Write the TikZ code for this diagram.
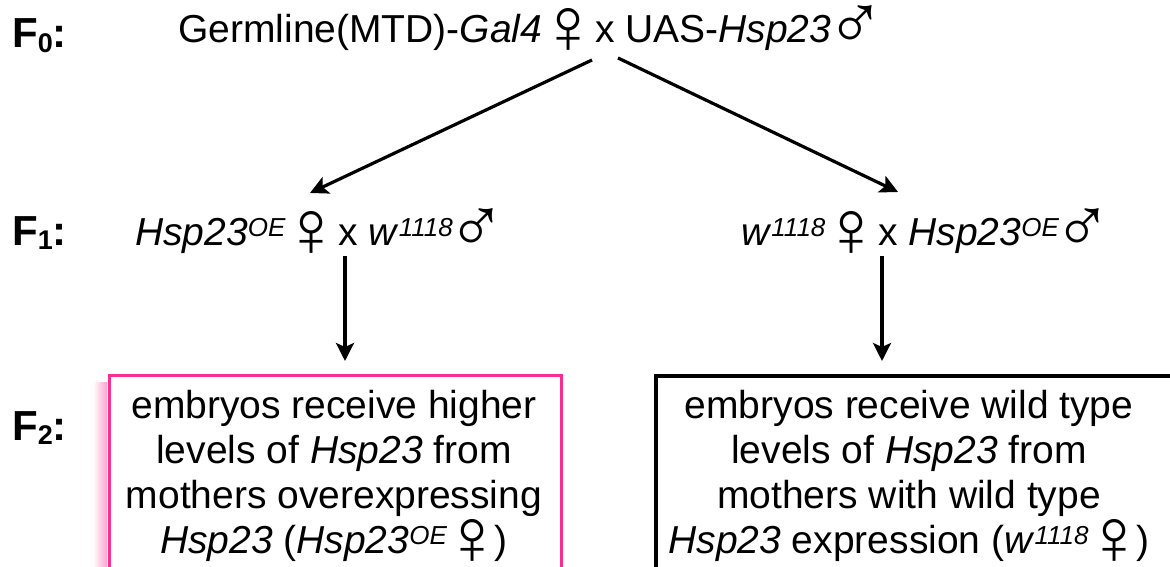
\documentclass[tikz,border=0pt]{standalone}
\usepackage{fontspec}
\setmainfont{Liberation Sans}
\usetikzlibrary{arrows.meta}
\definecolor{boxpink}{RGB}{250,45,145}
% small italic superscript (allele names)
\newcommand{\allele}[1]{\raisebox{9pt}{\fontsize{26}{26}\selectfont\itshape #1}}
% generation index
\newcommand{\gensub}[1]{\raisebox{-0.1em}{\fontsize{27}{27}\selectfont #1}}
% sex symbols, enlarged; side bearings trimmed
\newcommand{\femsign}{\hspace{-4pt}\raisebox{-11pt}[0pt][0pt]{\fontsize{80}{80}\selectfont ♀}\hspace{-14pt}}
\newcommand{\malsign}{\hspace{-5pt}\raisebox{-7pt}[0pt][0pt]{\fontsize{78}{78}\selectfont ♂}\hspace{-15pt}}
\begin{document}
\begin{tikzpicture}[x=1pt,y=-1pt,
  gen/.style={font=\fontsize{39}{45}\selectfont, inner sep=0pt, anchor=base west},
  genlabel/.style={font=\fontsize{42}{42}\selectfont\bfseries, inner sep=0pt, anchor=base west},
  arr/.style={line width=3.2pt, -{Stealth[length=18pt,width=18pt,inset=4pt]}},
  pinkframe/.style={draw=boxpink, line width=3pt, minimum width=452pt, minimum height=260pt, anchor=north west, inner sep=0pt},
  blackframe/.style={draw=black, line width=3.5pt, minimum width=540pt, minimum height=260pt, anchor=north west, inner sep=0pt},
  boxtext/.style={font=\fontsize{39}{45}\selectfont, align=center, inner sep=0pt, anchor=north}
]
\useasboundingbox (0,0) rectangle (1170,567);
\clip (0,0) rectangle (1170,567);

% generation labels
\node[genlabel] (l0) at (12,48)  {F\gensub{0}:};
\node[genlabel] (l1) at (12,245) {F\gensub{1}:};
\node[genlabel] (l2) at (12,440) {F\gensub{2}:};

% crosses
\node[gen] (p0) at (178,43)  {Germline(MTD)-\textit{Gal4}\femsign{} x UAS-\textit{Hsp23}\malsign};
\node[gen] (p1) at (135,245) {\textit{Hsp23}\allele{OE}\femsign{} x \textit{w}\allele{1118}\malsign};
\node[gen] (p2) at (741,245) {\textit{w}\allele{1118}\femsign{} x \textit{Hsp23}\allele{OE}\malsign};

% arrow end points
\coordinate (s1) at (592,60);
\coordinate (e1) at (310,193);
\coordinate (s2) at (618,58);
\coordinate (e2) at (898,192);
\coordinate (s3) at (345,256);
\coordinate (s4) at (882,256);

% outcome boxes
\shade[left color=white, right color=boxpink!45] (93,382) rectangle (107,570);
\node[pinkframe] (b1) at (108,374) {};
\node[blackframe] (b2) at (654,374) {};
\node[boxtext] (t1) at (334,390) {embryos receive higher\\ levels of \textit{Hsp23} from\\ mothers overexpressing\\ \textit{Hsp23} (\textit{Hsp23}\allele{OE}\femsign\hspace{6pt})};
\node[boxtext] (t2) at (909,390) {embryos receive wild type\\ levels of \textit{Hsp23} from\\ mothers with wild type\\ \textit{Hsp23} expression (\textit{w}\allele{1118}\femsign\hspace{6pt})};

% connectors
\draw[arr] (s1) -- (e1);
\draw[arr] (s2) -- (e2);
\draw[arr, shorten >=13pt] (s3) -- (s3 |- b1.north);
\draw[arr, shorten >=13pt] (s4) -- (s4 |- b2.north);
\end{tikzpicture}
\end{document}
